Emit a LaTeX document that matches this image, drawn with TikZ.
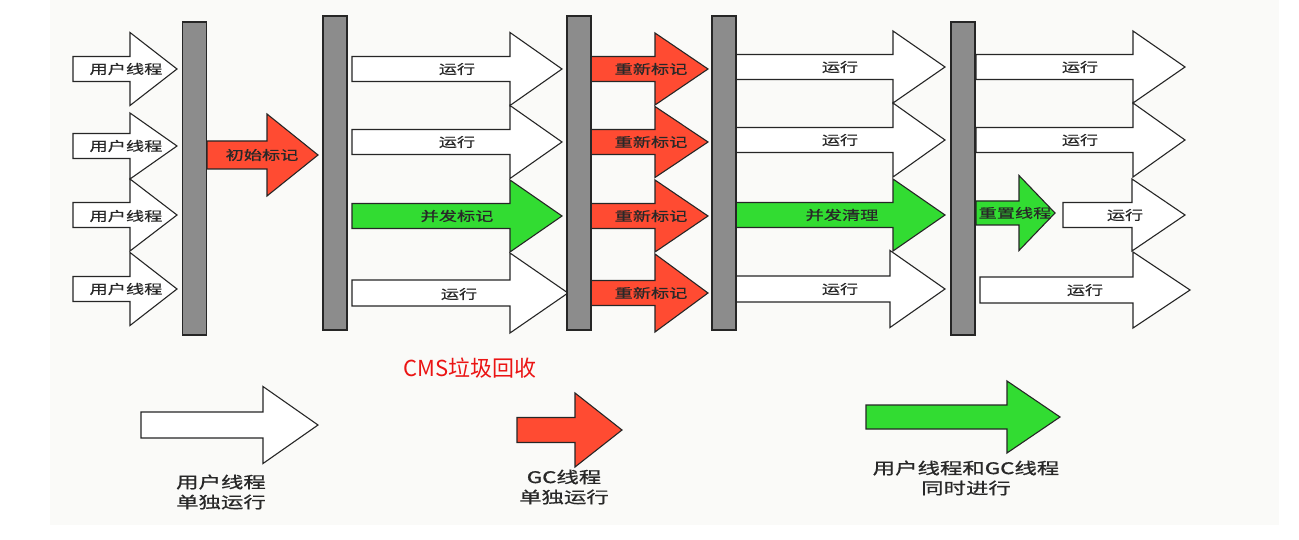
\documentclass[tikz,border=0pt]{standalone}
\usepackage{fontspec}
\setmainfont{Noto Sans CJK SC}
\newfontfamily\lblfont[FakeStretch=1.4,FakeBold=0.8]{Noto Sans CJK SC}
\usepackage{tikz}
\usetikzlibrary{
  positioning,
}
\definecolor{gcred}{RGB}{255,75,50}
\definecolor{gcgreen}{RGB}{50,220,50}
\definecolor{bargray}{RGB}{140,140,140}
\definecolor{ink}{RGB}{40,40,40}
\definecolor{panel}{RGB}{250,250,248}
\definecolor{titlered}{RGB}{235,20,20}
\tikzstyle{bar} = [rectangle, draw=black!85, fill=bargray, line width=1.2pt, minimum width=24, inner sep=0]
\tikzstyle{user} = [draw=black!85, fill=white, line width=1.1pt, line join=miter]
\tikzstyle{gc} = [user, fill=gcred]
\tikzstyle{both} = [user, fill=gcgreen]
\tikzstyle{lbl} = [font=\lblfont\fontsize{13}{13}\selectfont, text=ink, inner sep=0]
\tikzstyle{key} = [font=\lblfont\fontsize{16}{20}\selectfont, text=ink, align=center, inner sep=0]
% block arrow: style, left, head base, tip, mid y, half shaft, half head
\newcommand{\blockarrow}[7]{%
  \draw[#1] (#2,#5-#6) -- (#3,#5-#6) -- (#3,#5-#7) -- (#4,#5)
    -- (#3,#5+#7) -- (#3,#5+#6) -- (#2,#5+#6) -- cycle;}

\begin{document}
\begin{tikzpicture}[x=1pt, y=-1pt]
      \useasboundingbox (0,0) rectangle (1299,540);
      \fill[panel] (50,0) rectangle (1279,525);

      % user threads
      \blockarrow{user}{73}{130}{177}{69}{12.5}{36.5}
      \blockarrow{user}{73}{130}{177}{146}{12.5}{33}
      \blockarrow{user}{73}{130}{177}{215}{12.5}{36}
      \blockarrow{user}{73}{130}{177}{289}{12.5}{36.5}
      \node[lbl] (user1) at (126,69)  {用户线程};
      \node[lbl] (user2) at (126,146) {用户线程};
      \node[lbl] (user3) at (126,216) {用户线程};
      \node[lbl] (user4) at (126,289) {用户线程};

      \blockarrow{gc}{207}{267}{318}{155}{14}{41}
      \node[lbl] (init) at (262,155) {初始标记};

      % concurrent mark
      \blockarrow{user}{352}{510}{562}{69}{12.5}{36.5}
      \blockarrow{user}{352}{510}{562}{142}{12.5}{36.5}
      \blockarrow{both}{352}{510}{562}{216}{12.5}{36}
      \blockarrow{user}{352}{510}{568}{293}{13}{40}
      \node[lbl] (run21) at (457,69)  {运行};
      \node[lbl] (run22) at (457,142) {运行};
      \node[lbl] (mark)  at (457,216) {并发标记};
      \node[lbl] (run24) at (459,294) {运行};

      % remark
      \blockarrow{gc}{591}{655}{708}{69}{12.5}{36}
      \blockarrow{gc}{591}{655}{708}{142}{12.5}{35.5}
      \blockarrow{gc}{591}{655}{708}{216}{12.5}{36}
      \blockarrow{gc}{591}{655}{708}{293}{12.5}{39}
      \node[lbl] (remark1) at (651,69)  {重新标记};
      \node[lbl] (remark2) at (651,142) {重新标记};
      \node[lbl] (remark3) at (651,216) {重新标记};
      \node[lbl] (remark4) at (651,293) {重新标记};

      % concurrent sweep
      \blockarrow{user}{736}{893}{945}{67}{12.5}{36}
      \blockarrow{user}{736}{893}{945}{140}{12.5}{37}
      \blockarrow{both}{736}{893}{945}{215}{12.5}{36}
      \blockarrow{user}{736}{890}{945}{289}{13}{38.5}
      \node[lbl] (run41) at (840,67)  {运行};
      \node[lbl] (run42) at (840,140) {运行};
      \node[lbl] (sweep) at (842,215) {并发清理};
      \node[lbl] (run44) at (840,289) {运行};

      % reset
      \blockarrow{user}{976}{1133}{1185}{67}{12.5}{36}
      \blockarrow{user}{976}{1133}{1185}{140}{12.5}{37}
      \blockarrow{both}{976}{1019}{1055}{213}{12}{37.5}
      \blockarrow{user}{1063}{1132}{1185}{215}{12.5}{36}
      \blockarrow{user}{980}{1133}{1190}{290}{13}{38}
      \node[lbl] (run51) at (1080,67)  {运行};
      \node[lbl] (run52) at (1080,140) {运行};
      \node[lbl] (reset) at (1015,213) {重置线程};
      \node[lbl] (run53) at (1125,215) {运行};
      \node[lbl] (run54) at (1085,290) {运行};

      % pauses
      \node[bar,minimum height=313] (bar1) at (194.5,178.5) {};
      \node[bar,minimum height=314] (bar2) at (335,173) {};
      \node[bar,minimum height=314] (bar3) at (579,173) {};
      \node[bar,minimum height=314] (bar4) at (724,173) {};
      \node[bar,minimum height=313] (bar5) at (963,178.5) {};

      \node[font=\fontsize{22}{22}\selectfont, text=titlered] (title) at (470,368) {CMS垃圾回收};

      % legend
      \blockarrow{user}{141}{263}{318}{425}{13}{38.5}
      \blockarrow{gc}{517}{575}{622}{430}{12.5}{37}
      \blockarrow{both}{866}{1007}{1060}{417}{12}{36}
      \node[key] (key1) at (221,492) {用户线程\\单独运行};
      \node[key] (key2) at (564,487) {GC线程\\单独运行};
      \node[key] (key3) at (966,478) {用户线程和GC线程\\同时进行};

    \end{tikzpicture}
\end{document}
